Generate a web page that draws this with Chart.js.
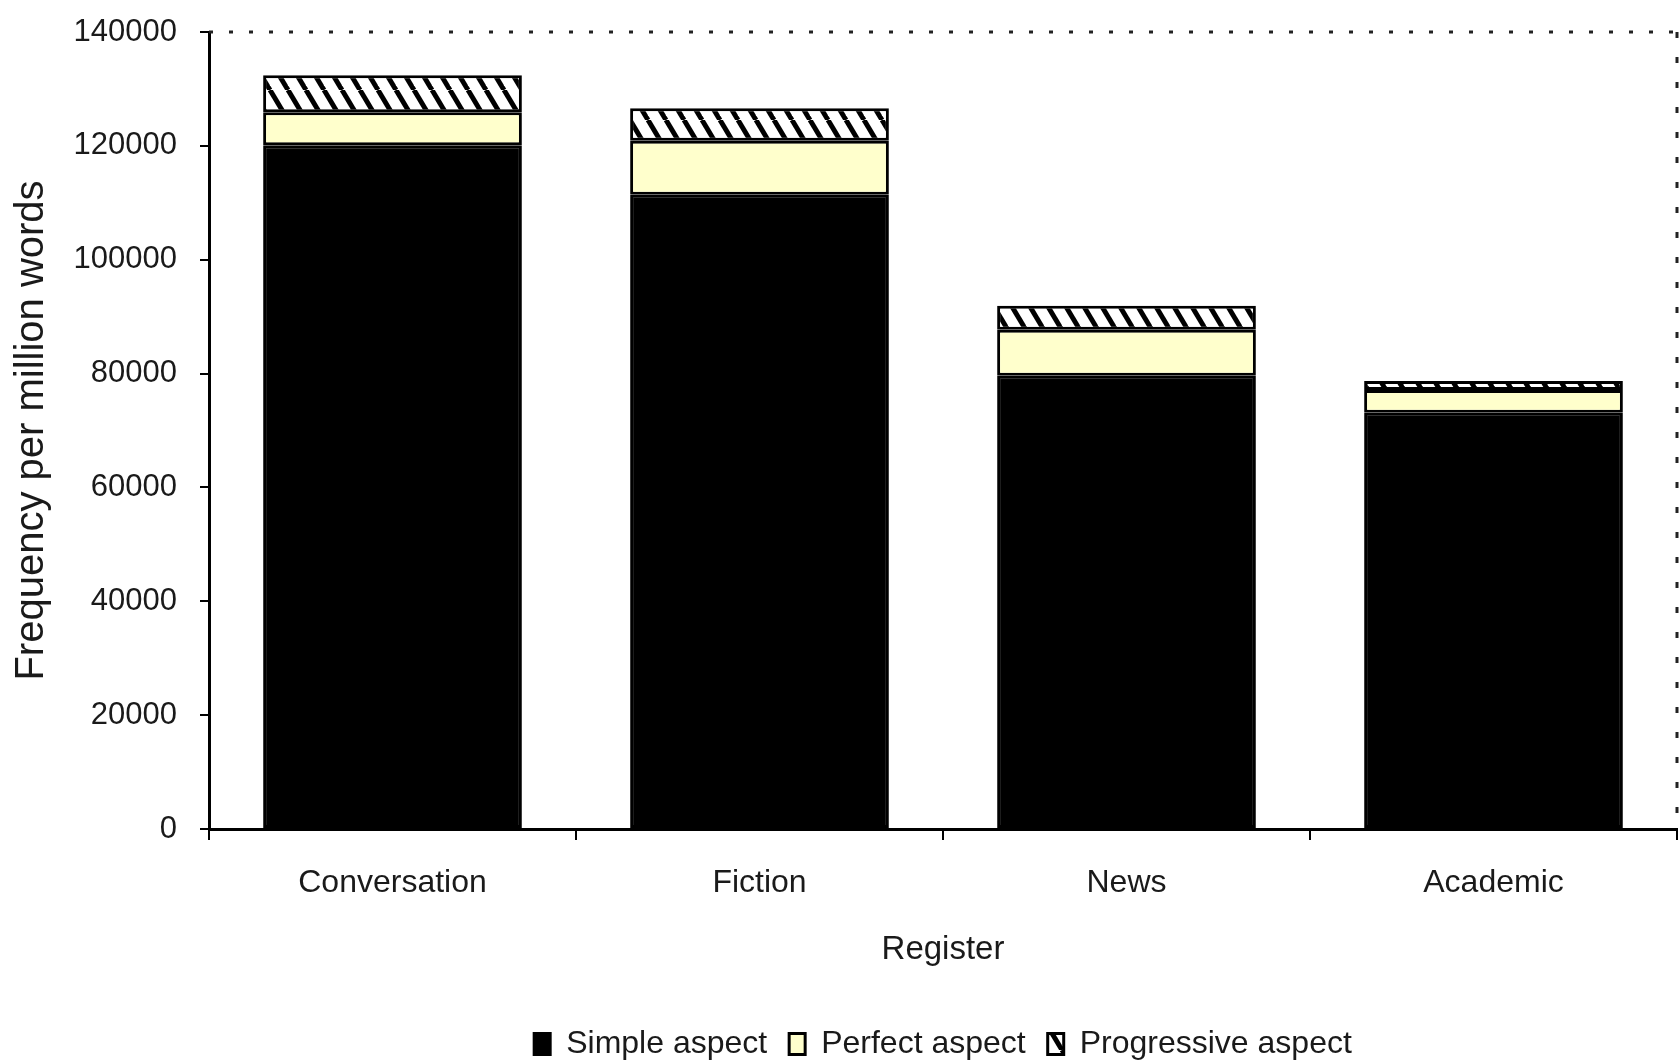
<!DOCTYPE html>
<html>
<head>
<meta charset="utf-8">
<script src="https://cdn.jsdelivr.net/npm/chart.js@4.4.1/dist/chart.umd.min.js"></script>
<style>
  html, body { margin: 0; padding: 0; background: #fff; }
  #wrap { width: 1679px; height: 1063px; position: relative; }
</style>
</head>
<body>
<div id="wrap"><canvas id="chart"></canvas></div>
<script>
const registers = ["Conversation", "Fiction", "News", "Academic"]
const simpleAspect = [120100, 111400, 79600, 73100]
const perfectAspect = [5800, 9500, 8100, 4000]
const progressiveAspect = [6500, 5700, 4200, 1600]
const yMax = 140000
const yStep = 20000

// diagonal black/white stripes like the Excel pattern fill
function hatchPattern() {
  const c = document.createElement("canvas")
  c.width = 18
  c.height = 30
  const g = c.getContext("2d")
  g.fillStyle = "#fff"
  g.fillRect(0, 0, 18, 30)
  g.strokeStyle = "#000"
  g.lineWidth = 5
  for (const dx of [-18, 0, 18]) {
    g.beginPath()
    g.moveTo(dx, 0)
    g.lineTo(dx + 18, 30)
    g.stroke()
  }
  return g.createPattern(c, "repeat")
}

// dotted top and right edge of the plot area
const plotBorder = {
  id: "plotBorder",
  beforeDatasetsDraw(chart) {
    const { ctx, chartArea: a } = chart
    ctx.save()
    ctx.strokeStyle = "#222"
    ctx.lineWidth = 3
    ctx.setLineDash([4, 16])
    ctx.beginPath()
    ctx.moveTo(a.left, a.top)
    ctx.lineTo(a.right, a.top)
    ctx.stroke()
    ctx.setLineDash([6, 19])
    ctx.beginPath()
    ctx.moveTo(a.right, a.top)
    ctx.lineTo(a.right, a.bottom)
    ctx.stroke()
    ctx.restore()
  }
}

Chart.defaults.font.family = "'Liberation Sans', Arial, sans-serif"
Chart.defaults.color = "#1a1a1a"

const common = { borderColor: "#000", borderWidth: 3, borderSkipped: false, barPercentage: 0.705, categoryPercentage: 1 }

new Chart(document.getElementById("chart"), {
  type: "bar",
  data: {
    labels: registers,
    datasets: [
      { label: "Simple aspect", data: simpleAspect, backgroundColor: "#000", ...common },
      { label: "Perfect aspect", data: perfectAspect, backgroundColor: "#ffffcc", ...common },
      { label: "Progressive aspect", data: progressiveAspect, backgroundColor: hatchPattern(), ...common }
    ]
  },
  options: {
    responsive: true,
    maintainAspectRatio: false,
    animation: false,
    layout: { padding: { top: 32, right: 2, left: 0, bottom: -7 } },
    plugins: {
      tooltip: { enabled: false },
      legend: {
        position: "bottom",
        fullSize: false,
        labels: {
          font: { size: 32 },
          boxWidth: 16,
          boxHeight: 21,
          padding: 22,
          color: "#1a1a1a"
        }
      }
    },
    scales: {
      x: {
        stacked: true,
        afterFit(scale) { scale.height = 177 },
        grid: {
          offset: true,
          drawOnChartArea: false,
          drawTicks: true,
          tickLength: 11,
          color: "#000",
          lineWidth: 2
        },
        border: { color: "#000", width: 3 },
        ticks: { font: { size: 32 }, padding: 24 },
        title: { display: true, text: "Register", font: { size: 33 }, padding: { top: 0, bottom: 36 } }
      },
      y: {
        stacked: true,
        min: 0,
        max: yMax,
        afterFit(scale) {
          scale.width = 209
          scale.paddingTop = 0
        },
        grid: {
          drawOnChartArea: false,
          drawTicks: true,
          tickLength: 9,
          color: "#000",
          lineWidth: 2
        },
        border: { color: "#000", width: 3 },
        ticks: { stepSize: yStep, font: { size: 31 }, padding: 23, callback: v => String(v) },
        title: { display: true, text: "Frequency per million words", font: { size: 40 }, padding: { top: 8, bottom: 0 } }
      }
    }
  },
  plugins: [plotBorder]
})
</script>
</body>
</html>
